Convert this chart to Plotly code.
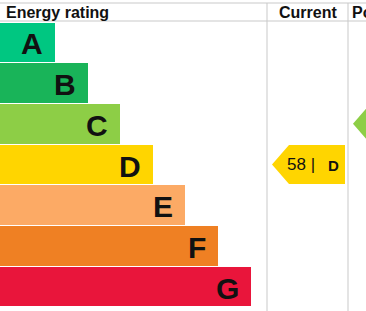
import plotly.graph_objects as go

# ---- data ----
bands = ["A", "B", "C", "D", "E", "F", "G"]
band_lengths = [55, 88, 120, 153, 185, 218, 251]
band_colors = ["#00c781", "#19b459", "#8dce46", "#ffd500", "#fcaa65", "#ef8023", "#e9153b"]
current_rating = 58
current_band = "D"
potential_band = "C"
headers = ["Energy rating", "Current", "Potential"]

W, H = 366, 311
ROW_TOP, ROW_BOT = 22, 307
COL_CUR = (267, 348)
COL_POT = (348, 429)
LINE = "#c9c9c9"

fig = go.Figure()

idx = list(range(len(bands)))
fig.add_trace(go.Bar(
    orientation="h", y=idx, x=band_lengths, base=0,
    marker=dict(color=band_colors, line=dict(width=0)),
    width=0.975, hoverinfo="skip", showlegend=False,
))

annotations = []
for i, (b, L) in enumerate(zip(bands, band_lengths)):
    annotations.append(dict(
        x=L - 10, y=i + 0.04, xref="x", yref="y", text="<b>%s</b>" % b,
        showarrow=False, xanchor="right", yanchor="middle",
        font=dict(family="Liberation Sans, Arial", size=30, color="#111111"),
    ))


def arrow(col, band, rating=None):
    bi = bands.index(band)
    color = band_colors[bi]
    tip = col[0] + 5
    corner = tip + 17
    right = col[1] - 3
    half = 0.48
    xs = [tip, corner, right, right, corner, tip]
    ys = [bi, bi - half, bi - half, bi + half, bi + half, bi]
    fig.add_trace(go.Scatter(
        x=xs, y=ys, fill="toself", fillcolor=color, mode="lines",
        line=dict(width=0, color=color), hoverinfo="skip", showlegend=False,
    ))
    if rating is not None:
        annotations.append(dict(
            x=corner - 4, y=bi, xref="x", yref="y", text="%d |" % rating,
            showarrow=False, xanchor="left", yanchor="middle",
            font=dict(family="Liberation Sans, Arial", size=17, color="#111111"),
        ))
        annotations.append(dict(
            x=corner + 37, y=bi + 0.02, xref="x", yref="y", text="<b>%s</b>" % band,
            showarrow=False, xanchor="left", yanchor="middle",
            font=dict(family="Liberation Sans, Arial", size=15, color="#111111"),
        ))


arrow(COL_CUR, current_band, current_rating)
arrow(COL_POT, potential_band)

# headers
hy = 1 - 12.5 / H
annotations.append(dict(x=4 / W, y=hy, xref="paper", yref="paper", text="<b>%s</b>" % headers[0],
                        showarrow=False, xanchor="left", yanchor="middle",
                        font=dict(family="Liberation Sans, Arial", size=16, color="#111111")))
annotations.append(dict(x=sum(COL_CUR) / 2 / W, y=hy, xref="paper", yref="paper", text="<b>%s</b>" % headers[1],
                        showarrow=False, xanchor="center", yanchor="middle",
                        font=dict(family="Liberation Sans, Arial", size=16, color="#111111")))
annotations.append(dict(x=(COL_POT[0] + 2) / W, y=hy, xref="paper", yref="paper", text="<b>%s</b>" % headers[2],
                        showarrow=False, xanchor="left", yanchor="middle",
                        font=dict(family="Liberation Sans, Arial", size=16, color="#111111")))

shapes = []
for yy in (3, 21):
    shapes.append(dict(type="line", xref="paper", yref="paper", x0=0, x1=1,
                       y0=1 - yy / H, y1=1 - yy / H, line=dict(color=LINE, width=1)))
for xx in (COL_CUR[0], COL_CUR[1]):
    shapes.append(dict(type="line", xref="paper", yref="paper", x0=xx / W, x1=xx / W,
                       y0=0, y1=1 - 3 / H, line=dict(color=LINE, width=1)))

fig.update_layout(
    width=W, height=H, margin=dict(l=0, r=0, t=0, b=0),
    paper_bgcolor="white", plot_bgcolor="white",
    xaxis=dict(range=[0, W], visible=False, fixedrange=True),
    yaxis=dict(range=[len(bands) - 0.5, -0.5], visible=False, fixedrange=True,
               domain=[(H - ROW_BOT) / H, (H - ROW_TOP) / H]),
    bargap=0, annotations=annotations, shapes=shapes,
)

fig.write_html("out.html")
